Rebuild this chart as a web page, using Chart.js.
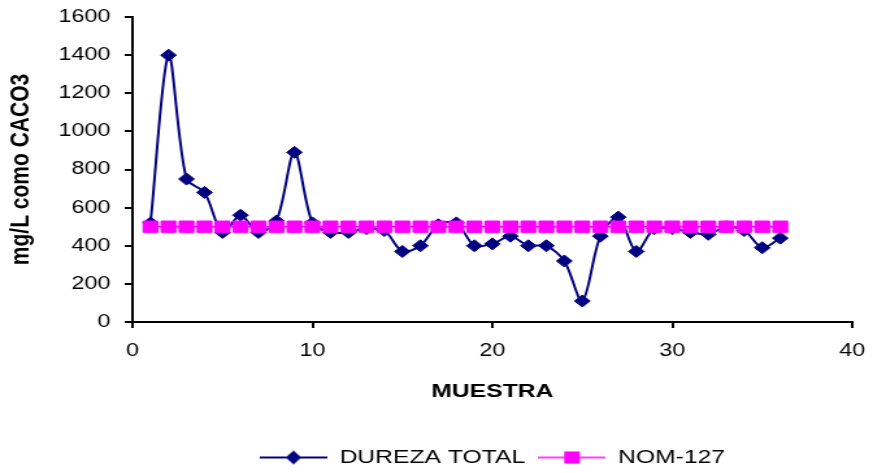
<!DOCTYPE html>
<html>
<head>
<meta charset="utf-8">
<script src="https://cdn.jsdelivr.net/npm/chart.js@4/dist/chart.umd.min.js"></script>
<style>
  html, body { margin: 0; padding: 0; background: #fff; }
  /* the original picture is stretched sideways, so the canvas is drawn narrow and widened by css */
  #chart { display: block; width: 873px; height: 473px; }
</style>
</head>
<body>
<canvas id="chart" width="672" height="473" style="width:873px;height:473px"></canvas>
<script>
const muestra = [1, 2, 3, 4, 5, 6, 7, 8, 9, 10, 11, 12, 13, 14, 15, 16, 17, 18,
                 19, 20, 21, 22, 23, 24, 25, 26, 27, 28, 29, 30, 31, 32, 33, 34, 35, 36];
const durezaTotal = [520, 1400, 750, 680, 470, 560, 470, 530, 890, 520, 470, 470,
                     490, 480, 370, 400, 510, 520, 400, 410, 450, 400, 400, 320,
                     110, 450, 550, 370, 490, 490, 470, 460, 500, 480, 390, 440];
const nom127 = [500, 500, 500, 500, 500, 500, 500, 500, 500, 500, 500, 500,
                500, 500, 500, 500, 500, 500, 500, 500, 500, 500, 500, 500,
                500, 500, 500, 500, 500, 500, 500, 500, 500, 500, 500, 500];
const seriesNames = ['DUREZA TOTAL', 'NOM-127'];
const xTicks = [0, 10, 20, 30, 40];
const yTicks = [0, 200, 400, 600, 800, 1000, 1200, 1400, 1600];

const navy = '#000080';
const magenta = '#FF00FF';
const fontFamily = '"Liberation Sans", Arial, sans-serif';

// legend symbols like the spreadsheet ones: a short line with the marker on it
function makeIcon(color, lineW, marker) {
  const c = document.createElement('canvas');
  c.width = 52;
  c.height = 16;
  const g = c.getContext('2d');
  g.strokeStyle = color;
  g.lineWidth = lineW;
  g.beginPath();
  g.moveTo(0, 8);
  g.lineTo(52, 8);
  g.stroke();
  g.fillStyle = color;
  g.beginPath();
  if (marker === 'diamond') {
    g.moveTo(26, 1);
    g.lineTo(32, 8);
    g.lineTo(26, 15);
    g.lineTo(20, 8);
  } else {
    g.rect(20, 2, 12, 12);
  }
  g.closePath();
  g.fill();
  return c;
}
const legendIcons = [makeIcon(navy, 2, 'diamond'), makeIcon(magenta, 1.5, 'square')];

const shiftLegend = {
  id: 'shiftLegend',
  afterLayout(chart) {
    const lg = chart.legend;
    lg.left += 51;
    lg.right += 51;
    lg.top += 4;
    lg.bottom += 4;
  }
};

const ctx = document.getElementById('chart').getContext('2d');
new Chart(ctx, {
  type: 'line',
  data: {
    datasets: [{
      label: seriesNames[0],
      data: muestra.map((m, i) => ({ x: m, y: durezaTotal[i] })),
      borderColor: navy,
      backgroundColor: navy,
      borderWidth: 2,
      tension: 0.3,
      pointStyle: 'rectRot',
      pointRadius: 6,
      pointBorderWidth: 1,
      order: 2
    }, {
      label: seriesNames[1],
      data: muestra.map((m, i) => ({ x: m, y: nom127[i] })),
      borderColor: magenta,
      backgroundColor: magenta,
      borderWidth: 1.5,
      pointStyle: 'rect',
      pointRadius: 8,
      pointBorderWidth: 1,
      order: 1
    }]
  },
  options: {
    responsive: false,
    animation: false,
    layout: { padding: { top: 17, right: 16, left: 0, bottom: 0 } },
    plugins: {
      tooltip: { enabled: false },
      legend: {
        position: 'bottom',
        labels: {
          usePointStyle: true,
          pointStyleWidth: 52,
          padding: 10,
          color: '#000',
          font: { family: fontFamily, size: 19 },
          generateLabels: (chart) => chart.data.datasets.map((ds, i) => ({
            text: ds.label,
            pointStyle: legendIcons[i],
            datasetIndex: i,
            hidden: false,
            lineWidth: 0,
            fillStyle: 'transparent',
            strokeStyle: 'transparent',
            fontColor: '#000'
          }))
        }
      }
    },
    scales: {
      x: {
        type: 'linear',
        min: xTicks[0],
        max: xTicks[xTicks.length - 1],
        afterBuildTicks: (scale) => { scale.ticks = xTicks.map(v => ({ value: v })); },
        afterFit: (scale) => {
          scale.height = 112;
          scale.paddingLeft = 0;
          scale.paddingRight = 0;
        },
        grid: { drawOnChartArea: false, drawTicks: true, tickLength: 6, color: '#000', lineWidth: 2 },
        border: { display: true, color: '#000', width: 2 },
        ticks: {
          color: '#000', padding: 12, maxRotation: 0,
          font: { family: fontFamily, size: 18 },
          callback: (v) => String(v)
        },
        title: {
          display: true,
          text: 'MUESTRA',
          color: '#000',
          padding: { top: 0, bottom: 31 },
          font: { family: fontFamily, size: 19, weight: 'bold' }
        }
      },
      y: {
        min: yTicks[0],
        max: yTicks[yTicks.length - 1],
        afterBuildTicks: (scale) => { scale.ticks = yTicks.map(v => ({ value: v })); },
        afterFit: (scale) => {
          scale.width = 102;
          scale.paddingTop = 0;
          scale.paddingBottom = 0;
        },
        grid: { drawOnChartArea: false, drawTicks: true, tickLength: 6, color: '#000', lineWidth: 2 },
        border: { display: true, color: '#000', width: 2 },
        ticks: {
          color: '#000', padding: 11,
          font: { family: fontFamily, size: 18 },
          callback: (v) => String(v)
        },
        title: {
          display: true,
          text: 'mg/L como CACO3',
          color: '#000',
          padding: { top: 4, bottom: 0 },
          font: { family: fontFamily, size: 21, weight: 'bold' }
        }
      }
    }
  },
  plugins: [shiftLegend]
});
</script>
</body>
</html>
